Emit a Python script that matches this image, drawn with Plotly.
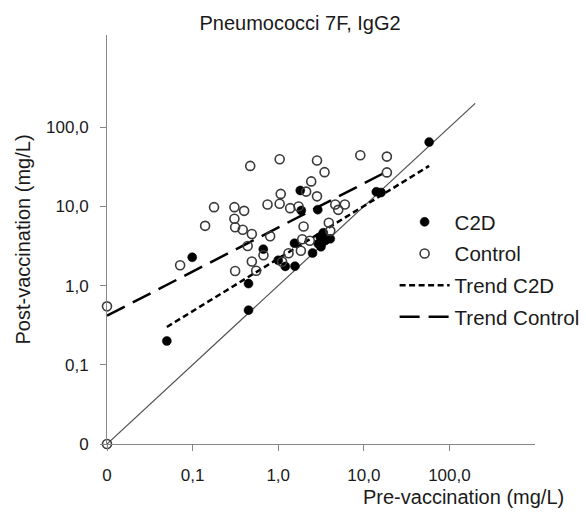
import plotly.graph_objects as go

# Antibody concentrations (mg/L); values of 0 are placed at the 0.01 floor of the log axes
c2d_pre = [58, 14.0, 15.9, 1.81, 1.86, 2.9, 0.099, 0.67, 1.55, 1.0, 1.21, 1.57,
           2.52, 3.1, 3.24, 3.55, 4.06, 3.16, 0.45, 0.45, 0.05, 3.36, 2.94]
c2d_post = [65, 15.3, 15.0, 15.9, 8.9, 9.1, 2.28, 2.89, 3.43, 2.09, 1.75, 1.76,
            2.58, 4.14, 3.45, 3.72, 3.9, 3.1, 1.06, 0.49, 0.20, 4.65, 3.38]

control_pre = [0.01, 0.01, 0.0715, 0.140, 0.178, 0.308, 0.400, 0.308, 0.314, 0.385,
               0.492, 0.471, 1.04, 2.84, 9.1, 18.6, 3.48, 18.6, 2.43, 2.12, 1.07,
               2.84, 0.75, 1.04, 1.38, 1.73, 4.64, 6.0, 5.03, 1.98, 3.90, 4.06,
               0.805, 0.44, 0.673, 0.492, 0.314, 0.553, 1.32, 1.84, 1.91, 2.34, 1.11]
control_post = [0.547, 0.01, 1.81, 5.69, 9.8, 9.8, 8.8, 6.98, 5.45, 5.07,
                4.49, 32.5, 39.5, 38.1, 44.4, 42.6, 27.1, 26.9, 20.7, 15.4, 14.4,
                13.4, 10.6, 10.8, 9.52, 10.0, 10.6, 10.6, 9.06, 5.58, 6.21, 4.92,
                4.2, 3.16, 2.42, 2.02, 1.53, 1.54, 2.56, 2.76, 3.85, 3.68, 2.0]

# Power-law trend lines (straight on log-log axes), end points
trend_c2d_x = [0.05, 58]
trend_c2d_y = [0.30, 32.5]
trend_control_x = [0.01, 18.6]
trend_control_y = [0.417, 27.6]

# Line of identity (post = pre)
identity_x = [0.01, 200]
identity_y = [0.01, 200]

tick_vals = [0.01, 0.1, 1, 10, 100]
tick_text = ["0", "0,1", "1,0", "10,0", "100,0"]

FONT = "Liberation Sans, Arial, sans-serif"
AXIS_GREY = "#868686"
INK = "#1a1a1a"

fig = go.Figure()

fig.add_trace(go.Scatter(
    x=identity_x, y=identity_y, mode="lines",
    line=dict(color="#505050", width=1.2),
    showlegend=False, hoverinfo="skip", cliponaxis=False,
))
fig.add_trace(go.Scatter(
    x=trend_c2d_x, y=trend_c2d_y, mode="lines", name="Trend C2D",
    line=dict(color="black", width=2.5, dash="6px,3.5px"),
    legendgroup="tc", legendrank=3,
))
fig.add_trace(go.Scatter(
    x=trend_control_x, y=trend_control_y, mode="lines", name="Trend Control",
    line=dict(color="black", width=2.5, dash="20px,9px"),
    legendgroup="tk", legendrank=4,
))
fig.add_trace(go.Scatter(
    x=c2d_pre, y=c2d_post, mode="markers", name="C2D",
    marker=dict(symbol="circle", size=9, color="black",
                line=dict(color="black", width=0.5)),
    legendgroup="c", legendrank=1, cliponaxis=False,
))
fig.add_trace(go.Scatter(
    x=control_pre, y=control_post, mode="markers", name="Control",
    marker=dict(symbol="circle-open", size=9, color="#3a3a3a",
                line=dict(color="#3a3a3a", width=1.6)),
    legendgroup="k", legendrank=2, cliponaxis=False,
))

axis_common = dict(
    type="log",
    showline=True, linecolor=AXIS_GREY, linewidth=1,
    ticks="outside", ticklen=6, tickcolor=AXIS_GREY, tickwidth=1,
    tickvals=tick_vals, ticktext=tick_text,
    showgrid=False, zeroline=False,
    tickfont=dict(family=FONT, size=17, color=INK),
)

fig.update_layout(
    width=586, height=512,
    margin=dict(l=107, r=51, t=35, b=67.5, autoexpand=False),
    paper_bgcolor="white", plot_bgcolor="white",
    font=dict(family=FONT, color=INK),
    title=dict(
        text="Pneumococci 7F, IgG2",
        x=0.512, xref="container", xanchor="center",
        y=1 - 23 / 512, yref="container", yanchor="middle",
        font=dict(family=FONT, size=20, color=INK),
    ),
    xaxis=dict(range=[-2, 3], ticklabelstandoff=10, **axis_common),
    yaxis=dict(range=[-2, 3.165], ticklabelstandoff=8, **axis_common),
    legend=dict(
        x=0.6734, xref="container", xanchor="left",
        y=1 - 202 / 512, yref="container", yanchor="top",
        font=dict(family=FONT, size=20.5, color=INK),
        itemwidth=50, tracegroupgap=2, traceorder="grouped",
        bgcolor="rgba(0,0,0,0)", borderwidth=0,
    ),
    annotations=[
        dict(text="Pre-vaccination (mg/L)", xref="paper", yref="paper",
             x=(566 - 107) / 428, y=-(498 - 444.5) / 409.5,
             xanchor="right", yanchor="middle", showarrow=False,
             font=dict(family=FONT, size=20, color=INK)),
        dict(text="Post-vaccination (mg/L)", xref="paper", yref="paper",
             x=(22 - 107) / 428, y=0.5, textangle=-90,
             xanchor="center", yanchor="middle", showarrow=False,
             font=dict(family=FONT, size=20, color=INK)),
    ],
)

fig.write_html("out.html")
